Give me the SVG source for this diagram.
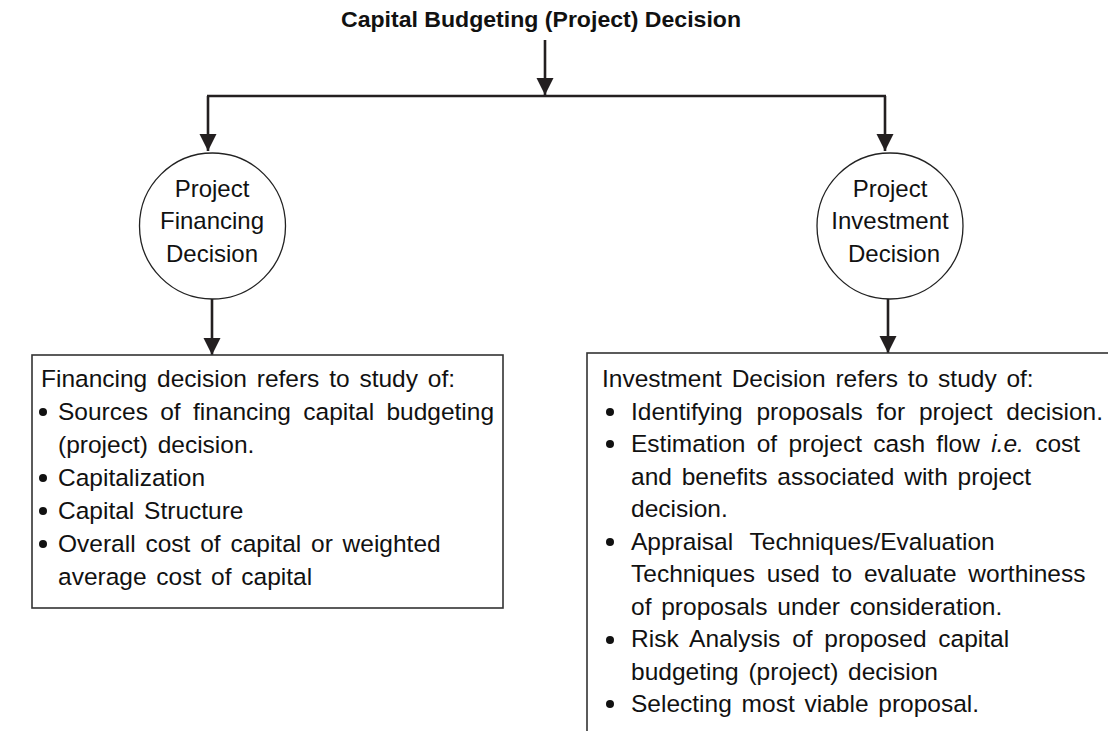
<svg xmlns="http://www.w3.org/2000/svg" width="1108" height="731" viewBox="0 0 1108 731">
<style>
  .title{font-family:"Liberation Sans",Arial,sans-serif;font-weight:bold;font-size:22px;fill:#111}
  .ctext{font-family:"Liberation Sans",Arial,sans-serif;font-size:24px;fill:#111;text-anchor:middle}
  .body{font-family:"Liberation Sans",Arial,sans-serif;font-size:24.5px;fill:#111;word-spacing:3px}
  .node{fill:#fff;stroke:#222;stroke-width:1.3}
  .box{fill:none;stroke:#333;stroke-width:1.6}
  .conn{fill:none;stroke:#231f20;stroke-width:2.6}
  .dot{fill:#111}
</style>
<defs>
  <marker id="ah" markerUnits="userSpaceOnUse" markerWidth="17" markerHeight="18" refX="16" refY="8" orient="auto" viewBox="0 0 16 16">
    <path d="M0,0 L16,8 L0,16 Z" fill="#231f20"/>
  </marker>
</defs>

<g id="title">
  <text class="title" x="541" y="27" text-anchor="middle" textLength="400" lengthAdjust="spacingAndGlyphs">Capital Budgeting (Project) Decision</text>
</g>

<g id="connectors">
  <line class="conn" x1="545" y1="40" x2="545" y2="95" marker-end="url(#ah)"/>
  <line class="conn" x1="207" y1="96" x2="886" y2="96"/>
  <line class="conn" x1="208" y1="96" x2="208" y2="151" marker-end="url(#ah)"/>
  <line class="conn" x1="885" y1="96" x2="885" y2="151" marker-end="url(#ah)"/>
  <line class="conn" x1="212" y1="299" x2="212" y2="355" marker-end="url(#ah)"/>
  <line class="conn" x1="888" y1="299" x2="888" y2="353" marker-end="url(#ah)"/>
</g>

<g id="financing-node">
  <circle class="node" cx="212.5" cy="226" r="73"/>
  <text class="ctext" x="212" y="197">Project</text>
  <text class="ctext" x="212" y="229">Financing</text>
  <text class="ctext" x="212" y="262">Decision</text>
</g>

<g id="investment-node">
  <circle class="node" cx="890" cy="226" r="73"/>
  <text class="ctext" x="890" y="197">Project</text>
  <text class="ctext" x="890" y="229">Investment</text>
  <text class="ctext" x="894" y="262">Decision</text>
</g>

<g id="financing-box">
  <rect class="box" x="32" y="355" width="471" height="253"/>
  <text class="body" x="41" y="387">Financing decision refers to study of:</text>
  <circle class="dot" cx="43" cy="412" r="4"/>
  <text class="body" x="58" y="420" style="word-spacing:5.5px">Sources of financing capital budgeting</text>
  <text class="body" x="58" y="453">(project) decision.</text>
  <circle class="dot" cx="43" cy="478" r="4"/>
  <text class="body" x="58" y="486">Capitalization</text>
  <circle class="dot" cx="43" cy="511" r="4"/>
  <text class="body" x="58" y="519">Capital Structure</text>
  <circle class="dot" cx="43" cy="544" r="4"/>
  <text class="body" x="58" y="552">Overall cost of capital or weighted</text>
  <text class="body" x="58" y="585">average cost of capital</text>
</g>

<g id="investment-box">
  <rect class="box" x="587" y="353" width="600" height="500"/>
  <text class="body" x="602" y="387">Investment Decision refers to study of:</text>
  <circle class="dot" cx="610" cy="412" r="4"/>
  <text class="body" x="631" y="420" style="word-spacing:7px">Identifying proposals for project decision.</text>
  <circle class="dot" cx="610" cy="444" r="4"/>
  <text class="body" x="631" y="452" style="word-spacing:4.5px">Estimation of project cash flow <tspan font-style="italic">i.e.</tspan> cost</text>
  <text class="body" x="631" y="485">and benefits associated with project</text>
  <text class="body" x="631" y="517">decision.</text>
  <circle class="dot" cx="610" cy="542" r="4"/>
  <text class="body" x="631" y="550" style="word-spacing:10px">Appraisal Techniques/Evaluation</text>
  <text class="body" x="631" y="582" style="word-spacing:5px">Techniques used to evaluate worthiness</text>
  <text class="body" x="631" y="615">of proposals under consideration.</text>
  <circle class="dot" cx="610" cy="640" r="4"/>
  <text class="body" x="631" y="647" style="word-spacing:5px">Risk Analysis of proposed capital</text>
  <text class="body" x="631" y="680">budgeting (project) decision</text>
  <circle class="dot" cx="610" cy="704" r="4"/>
  <text class="body" x="631" y="712">Selecting most viable proposal.</text>
</g>
</svg>
